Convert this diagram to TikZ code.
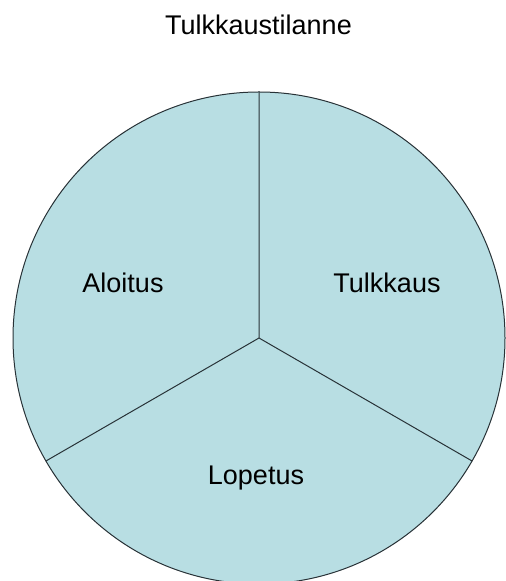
\documentclass[tikz,border=0pt]{standalone}
\usepackage{fontspec}
\setmainfont{Liberation Sans}
\definecolor{sektori}{RGB}{184,222,227}
\definecolor{reuna}{RGB}{40,50,55}
\begin{document}
\begin{tikzpicture}[x=1pt,y=1pt,line join=round,line cap=round]
	\tikzset{nimi/.style={font=\fontsize{27}{32}\selectfont,anchor=base,inner sep=0pt}}
	\def\sade{246}
	\useasboundingbox(0,0)rectangle(506,581);
	\coordinate(kp) at (259,243);
	\fill[sektori](kp)circle(\sade);
	\draw[reuna,line width=1pt](kp)--++(90:\sade)coordinate(yla)(kp)--++(210:\sade)coordinate(vasen)(kp)--++(330:\sade)coordinate(oikea);
	\draw[reuna,line width=1pt](kp)circle(\sade);
	\node[nimi](otsikko) at (258.5,546){Tulkkaustilanne};
	\node[nimi](aloitus) at (123,288){Aloitus};
	\node[nimi](tulkkaus) at (387,288){Tulkkaus};
	\node[nimi](lopetus) at (256,96){Lopetus};
\end{tikzpicture}
\end{document}
